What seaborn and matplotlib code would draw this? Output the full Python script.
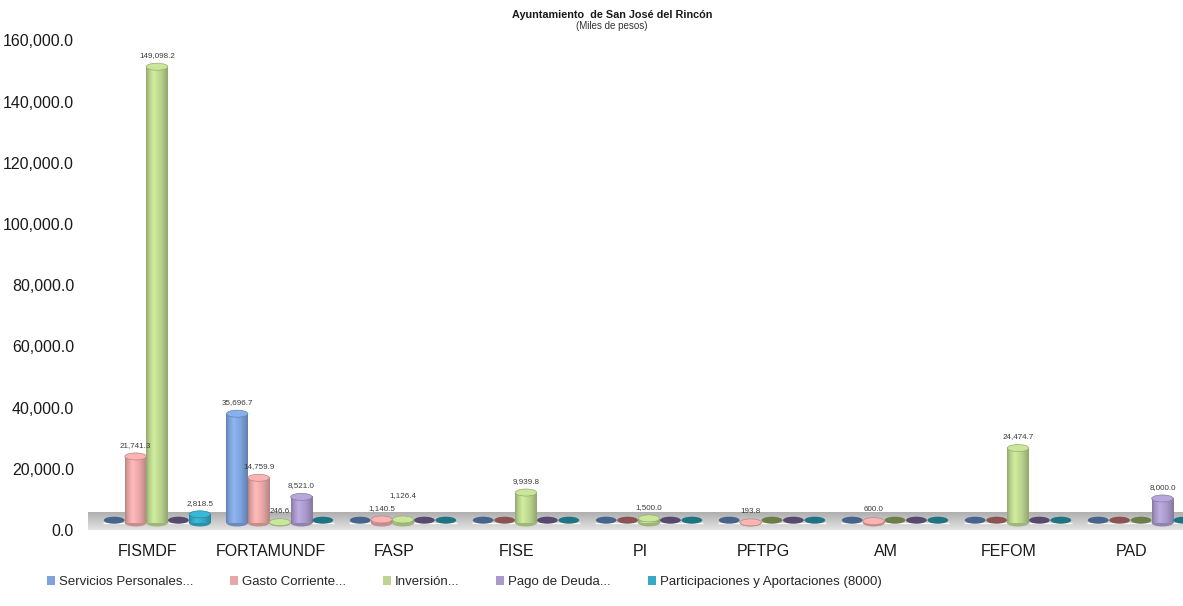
import numpy as np
import pandas as pd
import matplotlib
matplotlib.use("Agg")
import matplotlib.pyplot as plt
import matplotlib.transforms as mtrans
from matplotlib.patches import Ellipse, Patch
from matplotlib.colors import to_rgb
import seaborn as sns

# ---------------- data ----------------
categories = ["FISMDF", "FORTAMUNDF", "FASP", "FISE", "PI", "PFTPG", "AM", "FEFOM", "PAD"]
series = ["Servicios Personales...", "Gasto Corriente...", "Inversión...",
          "Pago de Deuda...", "Participaciones y Aportaciones (8000)"]
servicios_personales = [0, 35696.7, 0, 0, 0, 0, 0, 0, 0]
gasto_corriente = [21741.3, 14759.9, 1140.5, 0, 0, 193.8, 600.0, 0, 0]
inversion = [149098.2, 246.6, 1126.4, 9939.8, 1500.0, 0, 0, 24474.7, 0]
pago_deuda = [0, 8521.0, 0, 0, 0, 0, 0, 0, 8000.0]
participaciones = [2818.5, 0, 0, 0, 0, 0, 0, 0, 0]
y_ticks = [0, 20000, 40000, 60000, 80000, 100000, 120000, 140000, 160000]

title = "Ayuntamiento  de San José del Rincón"
subtitle = "(Miles de pesos)"

colors = ["#7FA3DC", "#E7A7A6", "#BBD58E", "#A99ACB", "#35A9C6"]
zero_colors = ["#46648C", "#8B5453", "#6E7E48", "#574A6E", "#1F7383"]

values = [servicios_personales, gasto_corriente, inversion, pago_deuda, participaciones]
rows = []
for s, vals in zip(series, values):
    for c, v in zip(categories, vals):
        rows.append({"cat": c, "serie": s, "val": v})
df = pd.DataFrame(rows)

# ---------------- style ----------------
sns.set_style("white")
plt.rcParams["font.family"] = ["Liberation Sans", "DejaVu Sans"]

W, H = 1183, 606
fig = plt.figure(figsize=(W / 100, H / 100), dpi=100)
ax_left, ax_right = 88, 1183
ax_top, ax_bot = 33.4, 535.2
ax = fig.add_axes([ax_left / W, 1 - ax_bot / H, (ax_right - ax_left) / W, (ax_bot - ax_top) / H])

sns.barplot(data=df, x="cat", y="val", hue="serie", order=categories, hue_order=series,
            palette=colors, width=0.87, dodge=True, saturation=1, ax=ax, legend=False,
            errorbar=None, zorder=3)

ymin, ymax = -4000, 160000
xmin = (ax_left - 157) / 123
xmax = (ax_right - 157) / 123

# floor band
floor = np.linspace(0, 1, 50).reshape(-1, 1)
floor_top = np.array(to_rgb("#AEAEAE"))
floor_bot = np.array(to_rgb("#E4E4E4"))
floor_img = floor_top[None, None, :] * (1 - floor[:, :, None]) + floor_bot[None, None, :] * floor[:, :, None]
ax.imshow(floor_img, extent=(xmin, xmax, -2300, 3300), origin="upper", aspect="auto", zorder=1)

ell_h = 2300
t = np.linspace(0, 1, 64)
shade = np.interp(t, [0, 0.12, 0.35, 0.7, 1.0], [0.78, 0.95, 1.12, 0.98, 0.78])

labels = {}
for k, cont in enumerate(ax.containers):
    base = np.array(to_rgb(colors[k]))
    for i, p in enumerate(cont.patches):
        h = p.get_height()
        x0, w = p.get_x(), p.get_width()
        cx = x0 + w / 2
        if h <= 0:
            ax.add_patch(Ellipse((cx, 900), w * 0.97, ell_h, facecolor=zero_colors[k],
                                 edgecolor="none", zorder=4))
            continue
        p.set_alpha(0)
        grad = np.clip(base[None, :] * shade[:, None], 0, 1)[None, :, :]
        ax.imshow(grad, extent=(x0, x0 + w, 0, h), aspect="auto", zorder=4,
                  interpolation="bicubic")
        ax.add_patch(Ellipse((cx, 0), w, ell_h, facecolor=np.clip(base * 0.85, 0, 1),
                             edgecolor="none", zorder=3.9))
        ax.add_patch(Ellipse((cx, h), w, ell_h, facecolor=np.clip(base * 1.08, 0, 1),
                             edgecolor=np.clip(base * 0.8, 0, 1), linewidth=0.5, zorder=5))
        a = ax.annotate(f"{h:,.1f}", (cx, h), xytext=(0, 5.5), textcoords="offset points",
                        ha="center", va="bottom", fontsize=5.8, color="#3A3A3A", zorder=6)
        labels.setdefault(i, []).append(a)

ax.set_xlim(xmin, xmax)
ax.set_ylim(ymin, ymax)
ax.set_yticks(y_ticks)
ax.set_yticklabels([f"{v:,.1f}" for v in y_ticks])
ax.set_xlabel("")
ax.set_ylabel("")
for sp in ax.spines.values():
    sp.set_visible(False)
ax.tick_params(axis="both", length=0, colors="#1A1A1A")
ax.tick_params(axis="y", pad=10, labelsize=11.5)
ax.tick_params(axis="x", pad=6, labelsize=11.5)

dy = mtrans.ScaledTranslation(0, -0.07, fig.dpi_scale_trans)
for lab in ax.get_yticklabels():
    lab.set_transform(lab.get_transform() + dy)
dx = mtrans.ScaledTranslation(-0.09, 0, fig.dpi_scale_trans)
for lab in ax.get_xticklabels():
    lab.set_transform(lab.get_transform() + dx)

fig.text(612 / W, 1 - 15 / H, title, ha="center", va="center", fontsize=7.8,
         fontweight="bold", color="#1A1A1A")
fig.text(612 / W, 1 - 26 / H, subtitle, ha="center", va="center", fontsize=7,
         color="#333333")

handles = [Patch(facecolor=c, edgecolor="none") for c in colors]
fig.legend(handles, series, loc="center left", bbox_to_anchor=(47 / W, 1 - 582 / H),
           ncol=5, frameon=False, fontsize=9.5, handlelength=0.6, handleheight=0.6,
           handletextpad=0.3, columnspacing=2.8, borderaxespad=0, borderpad=0)

# lift value labels that collide within a category
fig.canvas.draw()
r = fig.canvas.get_renderer()
for i, labs in labels.items():
    placed = []
    for a in labs:
        bb = a.get_window_extent(r)
        while any(bb.overlaps(pb) for pb in placed):
            x, y = a.xyann
            a.xyann = (x, y + 9)
            bb = a.get_window_extent(r)
        placed.append(bb)

fig.savefig("out.png", dpi=100)
